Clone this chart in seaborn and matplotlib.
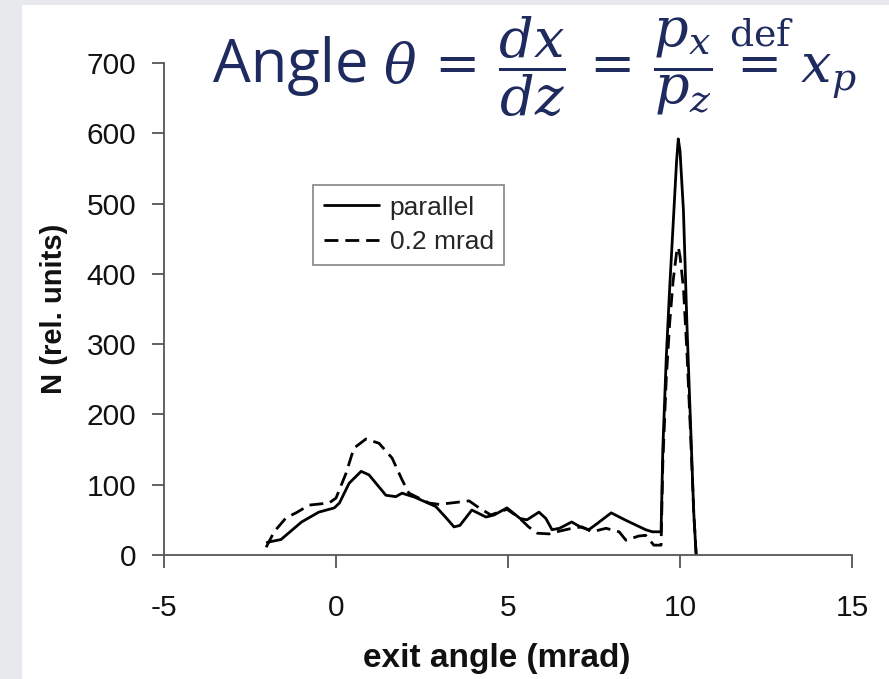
import matplotlib
matplotlib.use("Agg")
import matplotlib.pyplot as plt
from matplotlib.patches import Rectangle
import seaborn as sns

# exit-angle distributions (mrad) for a parallel beam and a 0.2 mrad divergent beam
parallel_x = [-2.0, -1.6, -1.0, -0.5, -0.05, 0.1, 0.38, 0.73, 0.96, 1.45, 1.74, 1.92,
              2.3, 2.9, 3.2, 3.43, 3.6, 3.95, 4.36, 4.6, 4.97, 5.35, 5.55, 5.9, 6.1,
              6.28, 6.5, 6.85, 7.1, 7.35, 7.6, 8.0, 8.4, 9.0, 9.2, 9.45, 9.5, 9.6,
              9.7, 9.8, 9.9, 9.95, 10.0, 10.1, 10.2, 10.3, 10.4, 10.47]
parallel_y = [18, 22, 47, 61, 67, 74, 102, 119, 114, 85, 83, 88,
              82, 69, 53, 40, 42, 64, 54, 57, 67, 52, 50, 61, 52,
              36, 38, 47, 40, 36, 45, 60, 50, 36, 33, 33, 150, 280,
              380, 470, 560, 592, 575, 490, 330, 195, 60, 0]

divergent_x = [-2.03, -1.8, -1.45, -1.16, -0.78, -0.2, 0.0, 0.29, 0.52, 0.87, 1.25,
               1.63, 1.92, 2.12, 2.7, 3.0, 3.87, 4.16, 4.5, 4.97, 5.3, 5.6, 5.85,
               6.2, 6.5, 6.86, 7.15, 7.44, 7.85, 8.23, 8.43, 8.8, 9.0, 9.24, 9.45,
               9.5, 9.6, 9.7, 9.8, 9.9, 9.95, 10.0, 10.1, 10.2, 10.3, 10.4, 10.47]
divergent_y = [11, 33, 53, 60, 71, 74, 81, 116, 152, 165, 159,
               138, 107, 88, 74, 72, 77, 67, 57, 65, 54, 40, 31,
               30, 34, 38, 40, 33, 38, 33, 21, 27, 28, 14, 14,
               130, 250, 330, 390, 430, 438, 425, 380, 290, 180, 60, 0]

series_labels = ["parallel", "0.2 mrad"]
x_ticks = [-5, 0, 5, 10, 15]
y_ticks = [0, 100, 200, 300, 400, 500, 600, 700]

sns.set_theme(style="ticks")
plt.rcParams["font.family"] = ["Liberation Sans", "DejaVu Sans"]
plt.rcParams["axes.unicode_minus"] = False

W, H = 889, 679
fig = plt.figure(figsize=(W / 100, H / 100), dpi=100, facecolor="#e8e9ed")
# white slide panel behind the chart
fig.patches.append(Rectangle((22 / W, 0), 1 - 22 / W, 1 - 5 / H,
                             transform=fig.transFigure, facecolor="white",
                             edgecolor="none", zorder=-10))

ax = fig.add_axes([164 / W, 1 - 555 / H, (852 - 164) / W, (555 - 63) / H])
ax.set_zorder(5)
ax.set_facecolor("none")

sns.lineplot(x=parallel_x, y=parallel_y, ax=ax, color="black", lw=2.0,
             estimator=None, sort=False, label=series_labels[0])
sns.lineplot(x=divergent_x, y=divergent_y, ax=ax, color="black", lw=2.0,
             estimator=None, sort=False, linestyle=(0, (5, 2.5)),
             label=series_labels[1])

ax.set_xlim(-5, 15)
ax.set_ylim(0, 700)
ax.set_xticks(x_ticks)
ax.set_yticks(y_ticks)
sns.despine(ax=ax)
for side in ("left", "bottom"):
    ax.spines[side].set_color("#555555")
    ax.spines[side].set_linewidth(1.3)
ax.tick_params(axis="both", direction="out", length=9, width=1.3,
               color="#555555", labelsize=21.5, labelcolor="#111111")
ax.tick_params(axis="x", pad=19)
ax.tick_params(axis="y", pad=11)

ax.set_xlabel("exit angle (mrad)", fontsize=24, fontweight="bold", color="#111111")
ax.set_ylabel("N (rel. units)", fontsize=21, fontweight="bold", color="#111111")
ax.xaxis.set_label_coords((497 - 164) / 688, -(643 - 555) / 492)
ax.yaxis.set_label_coords((68 - 164) / 688, 0.5)

leg = ax.legend(loc="upper left", bbox_to_anchor=((313 - 164) / 688, (555 - 185) / 492),
                borderaxespad=0, fontsize=19, frameon=True, fancybox=False,
                edgecolor="#666666", handlelength=2.1, handletextpad=0.4,
                borderpad=0.4, labelspacing=0.4)
leg.get_frame().set_linewidth(1.2)

navy = "#1f2a5e"
fig.text(213 / W, 1 - 82 / H, "Angle", fontsize=43, color=navy,
         family=["Open Sans", "DejaVu Sans"], va="baseline", ha="left", zorder=6)
fig.text(383 / W, 1 - 82 / H,
         r"$\theta\,=\,\dfrac{dx}{dz}\,=\,\dfrac{p_x}{p_z}\,\overset{\mathrm{def}}{=}\,x_p$",
         fontsize=39, color=navy, math_fontfamily="dejavuserif",
         va="baseline", ha="left", zorder=6)

fig.savefig("out.png", dpi=100, facecolor=fig.get_facecolor())
